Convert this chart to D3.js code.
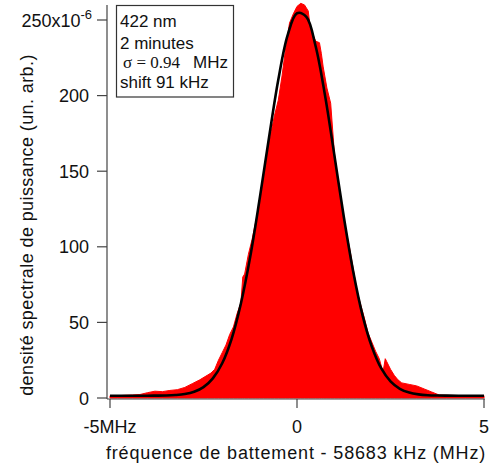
<!DOCTYPE html>
<html lang="fr">
<head>
  <meta charset="UTF-8">
  <title>densité spectrale</title>
  <script src="https://cdn.jsdelivr.net/npm/d3@7"></script>
  <style>
    body { margin: 0; background: #fff; }
    text { font-family: "Liberation Sans", Arial, Helvetica, sans-serif; fill: #111; }
  </style>
</head>
<body>
  <div id="main" style="width:490px;height:469px"></div>
  <script>
    // données (x en MHz, y en 1e-6 un. arb.)
    var freq = [-5, -4.8, -4.6, -4.4, -4.2, -4.0, -3.8, -3.6, -3.4, -3.2, -3.0, -2.8, -2.6, -2.4, -2.3, -2.2, -2.1,
      -2.0, -1.9, -1.8, -1.7, -1.6, -1.5, -1.45, -1.4, -1.3, -1.2, -1.1, -1.0, -0.9, -0.8, -0.7, -0.6, -0.5, -0.4,
      -0.3, -0.2, -0.1, 0.0, 0.1, 0.2, 0.3, 0.35, 0.43, 0.5, 0.6, 0.65, 0.7, 0.8, 0.9, 1.0, 1.1, 1.2, 1.3, 1.4,
      1.5, 1.6, 1.7, 1.8, 1.9, 2.0, 2.1, 2.2, 2.3, 2.36, 2.4, 2.5, 2.6, 2.7, 2.8, 3.0, 3.2, 3.4, 3.6, 3.8, 4.0,
      4.5, 5.0];
    var power = [1.5, 1.5, 1.8, 2.0, 2.3, 3.5, 4.5, 4.2, 5.0, 5.5, 7, 9.5, 12, 15, 16.5, 19, 25,
      30, 35, 42, 47, 56, 63, 80, 82, 95, 105, 117, 128, 146, 164, 175, 187, 197, 213,
      232, 248, 254, 259, 261, 260, 256, 246, 240, 236, 235, 228, 219, 205, 195, 162, 142, 125, 112, 100,
      86, 71, 62, 53, 43, 37, 31, 26, 17, 26, 24, 19, 15, 12, 10, 9, 8, 6, 4, 2, 1.8,
      1.5, 1.5];

    // ajustement gaussien (courbe noire)
    var fitFreq = [-5, -4.5, -4, -3.75, -3.5, -3.25, -3, -2.75, -2.5, -2.25, -2, -1.75, -1.5, -1.25, -1, -0.75,
      -0.5, -0.25, 0, 0.25, 0.5, 0.75, 1, 1.25, 1.5, 1.75, 2, 2.25, 2.5, 2.75, 3, 3.25, 3.5, 3.75, 4, 4.5, 5];
    var fitPower = [1.5, 1.5, 1.52, 1.56, 1.67, 1.96, 2.6, 4.1, 7.2, 13, 23, 39, 62.5, 93.5, 131.5, 172,
      210.5, 240, 254.5, 252, 232.5, 200, 160.5, 120, 84, 55, 34, 19.7, 11, 6.1, 3.6, 2.4, 1.85, 1.63,
      1.55, 1.5, 1.5];

    var yTicks = [0, 50, 100, 150, 200, 250];
    var xTicks = [-5, 0, 5];
    var xTickLabels = ["-5MHz", "0", "5"];
    var legendLines = ["422 nm", "2 minutes", "σ = 0.94", "shift 91 kHz"];

    var svg = d3.select("#main").append("svg")
      .attr("width", 490)
      .attr("height", 469);

    var x = d3.scaleLinear().domain([-5, 5]).range([110, 484]);
    var y = d3.scaleLinear().domain([0, 250]).range([398, 20]);

    // aire rouge
    var area = d3.area()
      .x(function (d) { return x(d[0]); })
      .y0(y(0))
      .y1(function (d) { return y(d[1]); });
    svg.append("path")
      .datum(d3.zip(freq, power))
      .attr("d", area)
      .attr("fill", "#ff0000")
      .attr("stroke", "#ff0000")
      .attr("stroke-width", 1);

    // courbe d'ajustement
    var line = d3.line()
      .x(function (d) { return x(d[0]); })
      .y(function (d) { return y(d[1]); })
      .curve(d3.curveCatmullRom);
    svg.append("path")
      .datum(d3.zip(fitFreq, fitPower))
      .attr("d", line)
      .attr("fill", "none")
      .attr("stroke", "#000")
      .attr("stroke-width", 2.6);

    // axe Y
    var gy = svg.append("g").attr("transform", "translate(107,0)");
    gy.append("line").attr("x1", 0).attr("x2", 0).attr("y1", 5).attr("y2", 399)
      .attr("stroke", "#444").attr("stroke-width", 1.2);
    gy.selectAll(".tk").data(yTicks).enter().append("line")
      .attr("x1", -10).attr("x2", 0)
      .attr("y1", function (d) { return y(d); })
      .attr("y2", function (d) { return y(d); })
      .attr("stroke", "#444").attr("stroke-width", 1.2);
    gy.selectAll(".lb").data(yTicks).enter().append("text")
      .attr("x", function (d) { return d == 250 ? -15 : -18; })
      .attr("y", function (d) { return y(d) + 6.5; })
      .attr("text-anchor", "end")
      .style("font-size", "18px")
      .each(function (d) {
        var t = d3.select(this);
        if (d == 250) {
          t.append("tspan").text("250x10");
          t.append("tspan").attr("dy", -8).style("font-size", "13px").text("-6");
        } else {
          t.text(d);
        }
      });

    // axe X
    var gx = svg.append("g").attr("transform", "translate(0,399)");
    gx.append("line").attr("x1", 107).attr("x2", 485).attr("y1", 0).attr("y2", 0)
      .attr("stroke", "#444").attr("stroke-width", 1.2);
    gx.selectAll(".tk").data(xTicks).enter().append("line")
      .attr("x1", function (d) { return x(d); })
      .attr("x2", function (d) { return x(d); })
      .attr("y1", 0).attr("y2", 9)
      .attr("stroke", "#444").attr("stroke-width", 1.2);
    gx.selectAll(".lb").data(xTicks).enter().append("text")
      .attr("x", function (d) { return x(d); })
      .attr("y", 34)
      .attr("text-anchor", "middle")
      .style("font-size", "18px")
      .text(function (d, i) { return xTickLabels[i]; });

    // titres
    svg.append("text")
      .attr("x", 296).attr("y", 459)
      .attr("text-anchor", "middle")
      .style("font-size", "18px")
      .style("letter-spacing", "0.85px")
      .text("fréquence de battement - 58683 kHz (MHz)");
    svg.append("text")
      .attr("transform", "translate(33,225) rotate(-90)")
      .attr("text-anchor", "middle")
      .style("font-size", "18px")
      .style("letter-spacing", "0.4px")
      .text("densité spectrale de puissance (un. arb.)");

    // légende
    svg.append("rect")
      .attr("x", 116.5).attr("y", 5.5).attr("width", 117).attr("height", 91.5)
      .attr("fill", "#fff").attr("stroke", "#333").attr("stroke-width", 1.2);
    var baselines = [27, 49, 68, 88];
    legendLines.forEach(function (s, i) {
      var t = svg.append("text")
        .attr("x", i == 2 ? 123 : 120)
        .attr("y", baselines[i])
        .style("font-size", "17px");
      if (i == 2) {
        t.append("tspan").style("font-family", "'Liberation Serif', 'Times New Roman', serif").text(s);
        t.append("tspan").attr("x", 193).text("MHz");
      } else {
        t.text(s);
      }
    });
  </script>
</body>
</html>
